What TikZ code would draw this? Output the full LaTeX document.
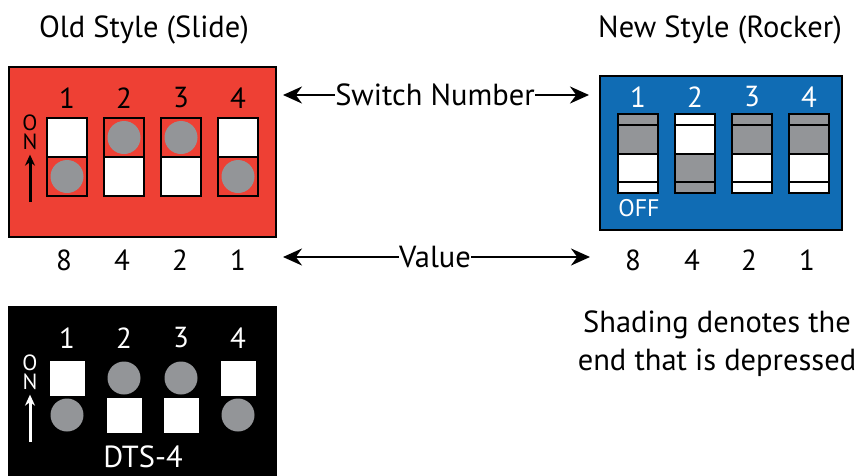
\documentclass[tikz,border=0pt]{standalone}
\usepackage{fontspec}
\setmainfont{PT Sans}
\usetikzlibrary{positioning,arrows.meta}
\definecolor{slidered}{RGB}{238,64,52}
\definecolor{rockerblue}{RGB}{16,108,180}
\definecolor{dotgray}{RGB}{147,149,152}
\tikzset{
  panel/.style={draw=black, line width=2pt, inner sep=0pt},
  halfbox/.style={draw=black, line width=2pt, minimum width=40pt, minimum height=39pt, inner sep=0pt},
  dotmark/.style={circle, fill=dotgray, minimum size=33pt, inner sep=0pt},
  sqmark/.style={fill=white, minimum width=35pt, minimum height=35pt, inner sep=0pt},
  stripbox/.style={draw=black, line width=2pt, minimum width=40pt, minimum height=10.5pt, inner sep=0pt},
  rockbox/.style={draw=black, line width=2pt, minimum width=40pt, minimum height=28.5pt, inner sep=0pt},
  bigtext/.style={font=\fontsize{30.5}{38}\selectfont, inner sep=0pt},
  digit/.style={font=\fontsize{29}{30}\selectfont, inner sep=0pt},
  ontext/.style={font=\fontsize{22}{19}\selectfont, inner sep=0pt, align=center},
  dimarrow/.style={-{Stealth[length=19pt, width=17pt]}, line width=2pt},
  onarrow/.style={-{Stealth[length=11pt, width=10pt]}, line width=3pt}
}

\begin{document}
\begin{tikzpicture}[x=1pt, y=-1pt]
  \useasboundingbox[fill=white] (0,0) rectangle (863,475);
  % titles
  \node[bigtext] (oldtitle) at (144,30) {Old Style (Slide)};
  \node[bigtext] (newtitle) at (720,30) {New Style (Rocker)};

  % old style slide switch
  \node[panel, fill=slidered, minimum width=267pt, minimum height=170pt] (redpanel) at (142.5,152) {};
  \node[digit] (r1) at (67,98) {1};
  \node[digit] (r2) at (124,98) {2};
  \node[digit] (r3) at (181,98) {3};
  \node[digit] (r4) at (238,98) {4};
  \node[halfbox, fill=white] (s1t) at (67,137.5) {};
  \node[halfbox] (s1b) at (67,176.5) {};
  \node[dotmark] (d1) at (67,176.5) {};
  \node[halfbox] (s2t) at (124,137.5) {};
  \node[halfbox, fill=white] (s2b) at (124,176.5) {};
  \node[dotmark] (d2) at (124,137.5) {};
  \node[halfbox] (s3t) at (181,137.5) {};
  \node[halfbox, fill=white] (s3b) at (181,176.5) {};
  \node[dotmark] (d3) at (181,137.5) {};
  \node[halfbox, fill=white] (s4t) at (238,137.5) {};
  \node[halfbox] (s4b) at (238,176.5) {};
  \node[dotmark] (d4) at (238,176.5) {};
  \node[ontext] (ron) at (30,132) {O\\N};
  \coordinate (rtail) at (30,202);
  \draw[onarrow] (rtail) -- (ron) [shorten >=5pt];
  \node[digit] (rv8) at (64,260) {8};
  \node[digit] (rv4) at (122,260) {4};
  \node[digit] (rv2) at (180,260) {2};
  \node[digit] (rv1) at (238,260) {1};

  % new style rocker switch
  \node[panel, fill=rockerblue, minimum width=242pt, minimum height=154pt] (bluepanel) at (721,153) {};
  \node[digit, white] (b1) at (638,97) {1};
  \node[digit, white] (b2) at (695,97) {2};
  \node[digit, white] (b3) at (752,97) {3};
  \node[digit, white] (b4) at (809,97) {4};
  \node[stripbox, fill=dotgray] (k1a) at (638,119.5) {};
  \node[rockbox, fill=dotgray] (k1b) at (638,139.5) {};
  \node[rockbox, fill=white] (k1c) at (638,168) {};
  \node[stripbox, fill=white] (k1d) at (638,187.5) {};
  \node[stripbox, fill=white] (k2a) at (695,119.5) {};
  \node[rockbox, fill=white] (k2b) at (695,139.5) {};
  \node[rockbox, fill=dotgray] (k2c) at (695,168) {};
  \node[stripbox, fill=dotgray] (k2d) at (695,187.5) {};
  \node[stripbox, fill=dotgray] (k3a) at (752,119.5) {};
  \node[rockbox, fill=dotgray] (k3b) at (752,139.5) {};
  \node[rockbox, fill=white] (k3c) at (752,168) {};
  \node[stripbox, fill=white] (k3d) at (752,187.5) {};
  \node[stripbox, fill=dotgray] (k4a) at (809,119.5) {};
  \node[rockbox, fill=dotgray] (k4b) at (809,139.5) {};
  \node[rockbox, fill=white] (k4c) at (809,168) {};
  \node[stripbox, fill=white] (k4d) at (809,187.5) {};
  \node[ontext, white, font=\fontsize{24}{24}\selectfont] (off) at (639,208) {OFF};
  \node[digit] (bv8) at (633,260) {8};
  \node[digit] (bv4) at (692,260) {4};
  \node[digit] (bv2) at (749,260) {2};
  \node[digit] (bv1) at (807,260) {1};

  % labels between the two switches
  \node[bigtext] (swnum) at (435,95) {Switch Number};
  \coordinate (swleft) at (283,95);
  \coordinate (swright) at (589,95);
  \draw[dimarrow] (swnum) -- (swleft);
  \draw[dimarrow] (swnum) -- (swright);
  \node[bigtext] (valtext) at (435,257) {Value};
  \coordinate (valleft) at (283,257);
  \coordinate (valright) at (590,257);
  \draw[dimarrow] (valtext) -- (valleft);
  \draw[dimarrow] (valtext) -- (valright);

  % dts-4 switch
  \node[panel, fill=black, minimum width=267pt, minimum height=175pt] (blackpanel) at (142.5,394.5) {};
  \node[digit, white] (t1) at (67,338) {1};
  \node[digit, white] (t2) at (124,338) {2};
  \node[digit, white] (t3) at (181,338) {3};
  \node[digit, white] (t4) at (238,338) {4};
  \node[sqmark] (q1) at (67,378) {};
  \node[dotmark] (e1) at (67,415) {};
  \node[dotmark] (e2) at (124,378) {};
  \node[sqmark] (q2) at (124,415) {};
  \node[dotmark] (e3) at (181,378) {};
  \node[sqmark] (q3) at (181,415) {};
  \node[sqmark] (q4) at (238,378) {};
  \node[dotmark] (e4) at (238,415) {};
  \node[ontext, white] (kon) at (30,372) {O\\N};
  \coordinate (ktail) at (30,442);
  \draw[onarrow, white] (ktail) -- (kon) [shorten >=5pt];
  \node[bigtext, white] (dts) at (143,457) {DTS-4};

  % note
  \node[bigtext, align=center] (note) at (717,344) {Shading denotes the\\end that is depressed};
\end{tikzpicture}
\end{document}
